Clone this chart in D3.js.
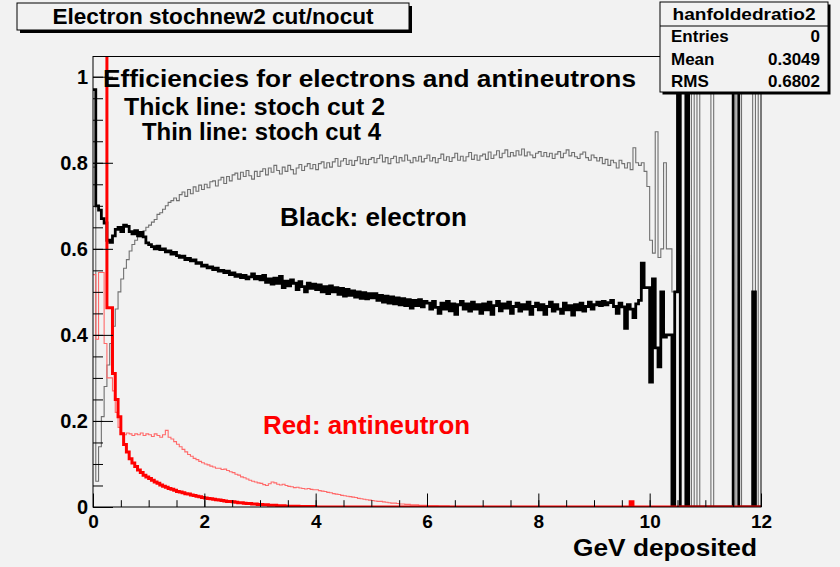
<!DOCTYPE html>
<html>
<head>
<meta charset="utf-8">
<script src="https://cdn.jsdelivr.net/npm/d3@7"></script>
<style>
  html, body { margin: 0; padding: 0; background: #f2f2f2; }
  svg { display: block; }
  text { font-family: "Liberation Sans", Arial, Helvetica, sans-serif; font-weight: bold; }
</style>
</head>
<body>
<svg id="canvas" width="840" height="567"></svg>
<script>
// Energy range covered by the histograms (GeV), 240 bins of 0.05 GeV
const energyRange = [0, 12];

// Electron efficiency, stoch cut 2 (thick black)
const electronCut2 = [
  0.97, 0.70, 0.69, 0.67, 0.66, 0.62, 0.615, 0.63, 0.645, 0.65, 0.64, 0.655, 0.652, 0.64, 0.635, 0.642, 0.63, 0.638, 0.628, 0.614,
  0.61, 0.605, 0.60, 0.606, 0.598, 0.60, 0.593, 0.595, 0.588, 0.592, 0.584, 0.58, 0.583, 0.575, 0.578, 0.572, 0.574, 0.566, 0.568, 0.56,
  0.562, 0.556, 0.558, 0.552, 0.555, 0.548, 0.55, 0.545, 0.548, 0.54, 0.544, 0.536, 0.54, 0.533, 0.538, 0.53, 0.535, 0.542, 0.53, 0.536,
  0.528, 0.538, 0.522, 0.53, 0.518, 0.532, 0.52, 0.536, 0.51, 0.525, 0.514, 0.528, 0.52, 0.505, 0.524, 0.512, 0.5, 0.52, 0.508, 0.518,
  0.505, 0.516, 0.5, 0.512, 0.496, 0.514, 0.5, 0.51, 0.494, 0.508, 0.49, 0.506, 0.492, 0.502, 0.488, 0.5, 0.485, 0.498, 0.484, 0.496,
  0.486, 0.496, 0.48, 0.492, 0.476, 0.49, 0.474, 0.488, 0.472, 0.486, 0.47, 0.484, 0.468, 0.482, 0.462, 0.48, 0.468, 0.482, 0.465, 0.478,
  0.474, 0.46, 0.478, 0.464, 0.45, 0.474, 0.46, 0.478, 0.456, 0.472, 0.448, 0.47, 0.478, 0.46, 0.472, 0.455, 0.476, 0.46, 0.47, 0.45,
  0.472, 0.458, 0.476, 0.448, 0.468, 0.478, 0.456, 0.472, 0.462, 0.476, 0.45, 0.466, 0.474, 0.455, 0.47, 0.46, 0.476, 0.448, 0.466, 0.474,
  0.458, 0.47, 0.448, 0.466, 0.476, 0.455, 0.47, 0.46, 0.45, 0.474, 0.458, 0.468, 0.446, 0.47, 0.458, 0.474, 0.455, 0.466, 0.476, 0.46,
  0.47, 0.476, 0.468, 0.478, 0.47, 0.475, 0.48, 0.466, 0.45, 0.474, 0.465, 0.415, 0.47, 0.46, 0.44, 0.472, 0.48, 0.567, 0.51, 0.51,
  0.29, 0.53, 0.37, 0.326, 0.5, 0.395, 0.40, 0.40, 0, 0.5, 2, 0, 0, 2, 0, 0, 0, 0, 0, 0,
  0, 0, 0, 0, 0, 0, 0, 0, 0, 0, 2, 2, 0, 0, 0, 0, 0, 0.5, 0, 0
];

// Electron efficiency, stoch cut 4 (thin black)
const electronCut4 = [
  0.79, 0.06, 0.14, 0.21, 0.28, 0.33, 0.38, 0.42, 0.46, 0.50, 0.53, 0.555, 0.575, 0.595, 0.61, 0.62, 0.628, 0.635, 0.642, 0.65,
  0.655, 0.662, 0.668, 0.68, 0.684, 0.692, 0.70, 0.708, 0.712, 0.718, 0.712, 0.726, 0.732, 0.722, 0.738, 0.728, 0.744, 0.734, 0.748, 0.738,
  0.75, 0.742, 0.756, 0.758, 0.746, 0.76, 0.766, 0.752, 0.768, 0.758, 0.772, 0.776, 0.762, 0.778, 0.768, 0.782, 0.77, 0.762, 0.78, 0.768,
  0.78, 0.786, 0.772, 0.788, 0.778, 0.794, 0.782, 0.774, 0.79, 0.78, 0.794, 0.784, 0.774, 0.788, 0.796, 0.782, 0.792, 0.798, 0.786, 0.796,
  0.784, 0.798, 0.802, 0.788, 0.8, 0.79, 0.802, 0.81, 0.792, 0.804, 0.81, 0.796, 0.806, 0.794, 0.805, 0.814, 0.798, 0.808, 0.796, 0.808,
  0.812, 0.8, 0.81, 0.818, 0.802, 0.812, 0.798, 0.81, 0.815, 0.8, 0.812, 0.804, 0.818, 0.806, 0.8, 0.812, 0.804, 0.815, 0.802, 0.81,
  0.818, 0.804, 0.812, 0.8, 0.81, 0.82, 0.806, 0.814, 0.803, 0.812, 0.822, 0.806, 0.815, 0.804, 0.814, 0.824, 0.808, 0.818, 0.806, 0.816,
  0.82, 0.808, 0.825, 0.81, 0.818, 0.828, 0.812, 0.822, 0.83, 0.814, 0.824, 0.816, 0.828, 0.818, 0.832, 0.816, 0.825, 0.818, 0.812, 0.822,
  0.826, 0.815, 0.824, 0.814, 0.822, 0.81, 0.82, 0.826, 0.812, 0.822, 0.83, 0.816, 0.824, 0.814, 0.81, 0.82, 0.825, 0.812, 0.806, 0.818,
  0.812, 0.804, 0.812, 0.798, 0.808, 0.794, 0.806, 0.8, 0.788, 0.806, 0.798, 0.788, 0.8, 0.784, 0.835, 0.8, 0.794, 0.8, 0.78, 0.745,
  0.62, 0.59, 0.872, 0.58, 0.60, 0.80, 0.60, 0.60, 0.50, 0.50, 2, 0, 0, 0, 0, 2, 0, 2, 0, 0,
  0, 0, 2, 0, 0, 0, 0, 0, 0, 0, 0, 2, 2, 0, 0, 0, 0, 2, 0, 2
];

// Antineutron efficiency, stoch cut 2 (thick red)
const antineutronCut2 = [
  1.5, 1.5, 1.5, 1.5, 1.5, 0.463, 0.463, 0.31, 0.25, 0.21, 0.17, 0.145, 0.128, 0.112, 0.102, 0.094, 0.086, 0.08, 0.074, 0.07,
  0.066, 0.062, 0.058, 0.055, 0.051, 0.048, 0.046, 0.043, 0.041, 0.039, 0.036, 0.035, 0.033, 0.031, 0.03, 0.028, 0.027, 0.025, 0.024, 0.022,
  0.021, 0.02, 0.019, 0.018, 0.017, 0.016, 0.015, 0.014, 0.013, 0.013, 0.012, 0.011, 0.01, 0.01, 0.009, 0.008, 0.008, 0.007, 0.007, 0.006,
  0.006, 0.005, 0.005, 0.004, 0.004, 0.004, 0.003, 0.003, 0.003, 0.002, 0.002, 0.002, 0.002, 0.002, 0.001, 0.001, 0.001, 0.001, 0.001, 0.001,
  0, 0, 0, 0, 0, 0, 0, 0, 0, 0, 0, 0, 0, 0, 0, 0, 0, 0, 0, 0,
  0, 0, 0, 0, 0, 0, 0, 0, 0, 0, 0, 0, 0, 0, 0, 0, 0, 0, 0, 0,
  0, 0, 0, 0, 0, 0, 0, 0, 0, 0, 0, 0, 0, 0, 0, 0, 0, 0, 0, 0,
  0, 0, 0, 0, 0, 0, 0, 0, 0, 0, 0, 0, 0, 0, 0, 0, 0, 0, 0, 0,
  0, 0, 0, 0, 0, 0, 0, 0, 0, 0, 0, 0, 0, 0, 0, 0, 0, 0, 0, 0,
  0, 0, 0, 0, 0, 0, 0, 0, 0, 0, 0, 0, 0, 0.012, 0, 0, 0, 0, 0, 0,
  0, 0, 0, 0, 0, 0, 0, 0, 0, 0, 0, 0, 0, 0, 0, 0, 0, 0, 0, 0,
  0, 0, 0, 0, 0, 0, 0, 0, 0, 0, 0, 0, 0, 0, 0, 0, 0, 0, 0, 0
];

// Antineutron efficiency, stoch cut 4 (thin red)
const antineutronCut4 = [
  0.54, 0.39, 0.545, 0.545, 0.38, 0.30, 0.30, 0.27, 0.22, 0.185, 0.172, 0.168, 0.172, 0.17, 0.166, 0.17, 0.168, 0.172, 0.166, 0.17,
  0.168, 0.164, 0.17, 0.166, 0.162, 0.168, 0.178, 0.162, 0.158, 0.152, 0.146, 0.14, 0.134, 0.128, 0.122, 0.118, 0.113, 0.11, 0.106, 0.103,
  0.10, 0.098, 0.095, 0.093, 0.09, 0.09, 0.087, 0.088, 0.085, 0.082, 0.08, 0.076, 0.074, 0.07, 0.068, 0.065, 0.062, 0.06, 0.058, 0.056,
  0.055, 0.052, 0.05, 0.054, 0.058, 0.056, 0.053, 0.051, 0.053, 0.05, 0.048, 0.047, 0.045, 0.046, 0.044, 0.043, 0.042, 0.043, 0.041, 0.04,
  0.04, 0.038, 0.037, 0.036, 0.034, 0.033, 0.031, 0.03, 0.029, 0.027, 0.026, 0.025, 0.024, 0.023, 0.022, 0.02, 0.019, 0.018, 0.017, 0.016,
  0.015, 0.014, 0.013, 0.013, 0.012, 0.011, 0.01, 0.009, 0.009, 0.008, 0.007, 0.007, 0.006, 0.006, 0.005, 0.005, 0.005, 0.004, 0.004, 0.004,
  0.003, 0.003, 0.003, 0.003, 0.002, 0.002, 0.002, 0.002, 0.001, 0.001, 0.001, 0.001, 0.001, 0, 0, 0, 0, 0, 0, 0,
  0, 0, 0, 0, 0, 0, 0, 0, 0, 0, 0, 0, 0, 0, 0, 0, 0, 0, 0, 0,
  0, 0, 0, 0, 0, 0, 0, 0, 0, 0, 0, 0, 0, 0, 0, 0, 0, 0, 0, 0,
  0, 0, 0, 0, 0, 0, 0, 0, 0, 0, 0, 0, 0, 0, 0, 0, 0, 0, 0, 0,
  0, 0, 0, 0, 0, 0, 0, 0, 0, 0, 0, 0, 0, 0, 0, 0, 0, 0, 0, 0,
  0, 0, 0, 0, 0, 0, 0, 0, 0, 0, 0, 0, 0, 0, 0, 0, 0, 0, 0, 0
];

// Axis ticks and labels
const xMajorTicks = [0, 2, 4, 6, 8, 10, 12];
const xTickLabels = ["0", "2", "4", "6", "8", "10", "12"];
const yMajorTicks = [0, 0.2, 0.4, 0.6, 0.8, 1];
const yTickLabels = ["0", "0.2", "0.4", "0.6", "0.8", "1"];
const xMinorStep = 0.5;
const yMinorStep = 0.05;
const yAxisTop = 1.047;

// Text blocks
const canvasTitle = "Electron stochnew2 cut/nocut";
const statsName = "hanfoldedratio2";
const statsLabels = ["Entries", "Mean", "RMS"];
const statsValues = ["0", "0.3049", "0.6802"];
const xAxisTitle = "GeV deposited";

const svg = d3.select("#canvas");
const W = 840, H = 567;
const frame = { left: 93, right: 761, top: 56.5, bottom: 507 };

svg.append("rect").attr("width", W).attr("height", H).attr("fill", "#f2f2f2");

const x = d3.scaleLinear().domain(energyRange).range([frame.left, frame.right]);
const y = d3.scaleLinear().domain([0, yAxisTop]).range([frame.bottom, frame.top]);

svg.append("defs").append("clipPath").attr("id", "frameClip")
  .append("rect")
  .attr("x", frame.left).attr("y", frame.top)
  .attr("width", frame.right - frame.left).attr("height", frame.bottom - frame.top);

// Step outline of a histogram, one horizontal segment per bin
function histPath(vals) {
  const w = (energyRange[1] - energyRange[0]) / vals.length;
  let p = "";
  vals.forEach((v, i) => {
    const x0 = x(energyRange[0] + i * w), x1 = x(energyRange[0] + (i + 1) * w);
    p += (i === 0 ? `M${x0},${y(v)}` : `V${y(v)}`) + `H${x1}`;
  });
  return p;
}

const plot = svg.append("g").attr("clip-path", "url(#frameClip)");
const series = [
  { vals: electronCut4, color: "#707070", width: 1.1 },
  { vals: electronCut2, color: "#000000", width: 2.8 },
  { vals: antineutronCut4, color: "#ff6a6a", width: 1.1 },
  { vals: antineutronCut2, color: "#ff0000", width: 3 }
];
series.forEach(s => {
  plot.append("path")
    .attr("d", histPath(s.vals))
    .attr("fill", "none")
    .attr("stroke", s.color)
    .attr("stroke-width", s.width)
    .attr("stroke-linejoin", "miter");
});

// Frame
svg.append("rect")
  .attr("x", frame.left).attr("y", frame.top)
  .attr("width", frame.right - frame.left).attr("height", frame.bottom - frame.top)
  .attr("fill", "none").attr("stroke", "#000").attr("stroke-width", 1);

// Minor ticks
const xMinor = d3.range(energyRange[0], energyRange[1] + 1e-9, xMinorStep);
const yMinor = d3.range(0, 1.0001 + 1e-9, yMinorStep);

const xAxis = svg.append("g").attr("transform", `translate(0,${frame.bottom})`)
  .call(d3.axisBottom(x).tickValues(xMajorTicks).tickSize(-13.5).tickPadding(8)
    .tickFormat((d, i) => xTickLabels[i]));
svg.append("g").attr("transform", `translate(0,${frame.bottom})`)
  .call(d3.axisBottom(x).tickValues(xMinor).tickSize(-6.8).tickFormat(""))
  .call(g => g.select(".domain").remove());

const yAxis = svg.append("g").attr("transform", `translate(${frame.left},0)`)
  .call(d3.axisLeft(y).tickValues(yMajorTicks).tickSize(-20).tickPadding(5)
    .tickFormat((d, i) => yTickLabels[i]));
svg.append("g").attr("transform", `translate(${frame.left},0)`)
  .call(d3.axisLeft(y).tickValues(yMinor).tickSize(-10).tickFormat(""))
  .call(g => g.select(".domain").remove());

xAxis.select(".domain").remove();
yAxis.select(".domain").remove();
xAxis.selectAll("text").attr("font-size", 19).attr("fill", "#000");
yAxis.selectAll("text").attr("font-size", 20).attr("fill", "#000");
svg.selectAll(".tick text")
  .style("font-family", '"Liberation Sans", Arial, sans-serif').style("font-weight", "bold");
svg.selectAll(".tick line").attr("stroke", "#000");

// Annotations
function label(txt, xPos, yPos, size, len, color, anchor) {
  return svg.append("text")
    .attr("x", xPos).attr("y", yPos)
    .attr("font-size", size)
    .attr("fill", color || "#000")
    .attr("text-anchor", anchor || "start")
    .attr("textLength", len)
    .attr("lengthAdjust", "spacingAndGlyphs")
    .text(txt);
}
label("Efficiencies for electrons and antineutrons", 103, 87, 24, 533);
label("Thick line: stoch cut 2", 124, 115, 24, 261);
label("Thin line: stoch cut 4", 142, 140, 24, 239);
label("Black: electron", 280, 226, 25, 187);
label("Red: antineutron", 263, 434, 25, 207, "#ff0000");
label(xAxisTitle, 757, 556, 23, 184, "#000", "end");

// Title box
svg.append("rect").attr("x", 20).attr("y", 6).attr("width", 392).attr("height", 27).attr("fill", "#000");
svg.append("rect").attr("x", 17).attr("y", 3).attr("width", 392).attr("height", 27)
  .attr("fill", "#f2f2f2").attr("stroke", "#000").attr("stroke-width", 1);
label(canvasTitle, 213, 24, 22, 321, "#000", "middle");

// Statistics box
const sb = { x: 660, y: 2, w: 168, h: 90 };
svg.append("rect").attr("x", sb.x + 2.5).attr("y", sb.y + 2.5).attr("width", sb.w).attr("height", sb.h).attr("fill", "#000");
svg.append("rect").attr("x", sb.x).attr("y", sb.y).attr("width", sb.w).attr("height", sb.h)
  .attr("fill", "#f2f2f2").attr("stroke", "#000").attr("stroke-width", 1);
svg.append("line").attr("x1", sb.x).attr("x2", sb.x + sb.w).attr("y1", 26).attr("y2", 26)
  .attr("stroke", "#000").attr("stroke-width", 1);
label(statsName, 744, 20, 17, 143, "#000", "middle");
const rowBase = [42, 64.5, 87];
statsLabels.forEach((t, i) => {
  svg.append("text").attr("x", 671).attr("y", rowBase[i]).attr("font-size", 17).attr("fill", "#000").text(t);
  svg.append("text").attr("x", 820).attr("y", rowBase[i]).attr("font-size", 17).attr("fill", "#000")
    .attr("text-anchor", "end").text(statsValues[i]);
});
</script>
</body>
</html>
